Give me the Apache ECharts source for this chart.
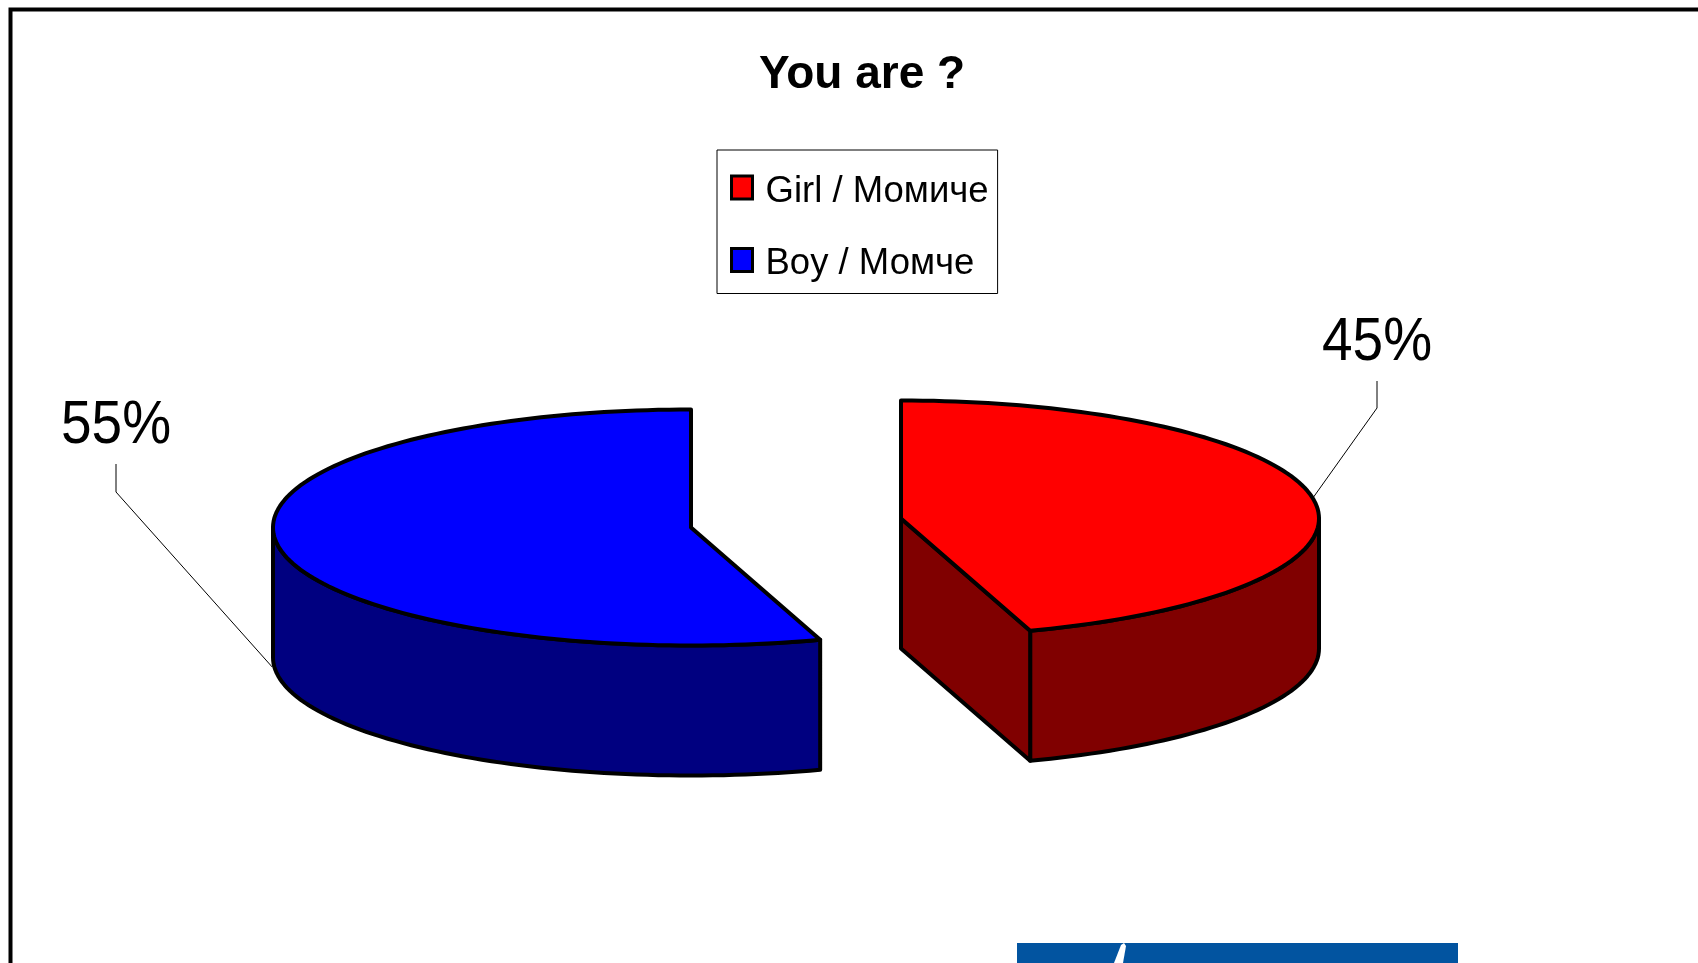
<!DOCTYPE html>
<html>
<head>
<meta charset="utf-8">
<style>html,body{margin:0;padding:0;background:#fff}#chart{width:1698px;height:963px}</style>
<script src="https://cdn.jsdelivr.net/npm/echarts@6/dist/echarts.min.js"></script>
</head>
<body>
<div id="chart"></div>
<script>
// Data
const titleText = 'You are ?';
const categories = ['Girl / Момиче', 'Boy / Момче'];
const values = [45, 55];
const percentLabels = ['45%', '55%'];
const topColors = ['#FF0000', '#0000FF'];
const sideColors = ['#800000', '#000080'];

// Layout
const RX = 418, RY = 118, DEPTH = 130;
const centers = [[901, 518.5], [691, 527.5]];
const labelPos = [[1377, 343], [116, 426]];
const elbows = [[[1377, 381], [1377, 408]], [[116, 464], [116, 492]]];
const leaderOffset = [[-1, -2], [-6, -9]];
const FONT = '"Liberation Sans", Arial, sans-serif';

const total = values.reduce((a, b) => a + b, 0);
const rad = d => d * Math.PI / 180;

function rim(c, deg, dy) {
  return [c[0] + RX * Math.sin(rad(deg)), c[1] - RY * Math.cos(rad(deg)) + (dy || 0)];
}
function arc(c, from, to, dy) {
  const pts = [], n = Math.max(2, Math.ceil(Math.abs(to - from) / 1.5));
  for (let i = 0; i <= n; i++) pts.push(rim(c, from + (to - from) * i / n, dy));
  return pts;
}
const stroke = { stroke: '#000', lineWidth: 4, lineJoin: 'round' };

function renderSlice(idx) {
  return function (params, api) {
    const before = values.slice(0, idx).reduce((a, b) => a + b, 0);
    const value = api.value(0);
    const start = before / total * 360, end = (before + value) / total * 360;
    const c = centers[idx], children = [];
    const poly = (points, fill) => children.push({
      type: 'polygon', shape: { points }, style: Object.assign({ fill }, stroke)
    });
    // visible part of the outer wall: the front half of the ellipse
    const a = Math.max(start, 90), b = Math.min(end, 270);
    if (b > a) poly(arc(c, a, b, 0).concat(arc(c, b, a, DEPTH)), sideColors[idx]);
    // visible cut wall
    if (Math.sin(rad(end)) > 1e-6) {
      const e = rim(c, end);
      poly([c, e, [e[0], e[1] + DEPTH], [c[0], c[1] + DEPTH]], sideColors[idx]);
    }
    // top face
    poly([c].concat(arc(c, start, end, 0)), topColors[idx]);
    // leader line and percentage
    const mid = rim(c, (start + end) / 2, idx === 1 ? DEPTH : 0);
    const endPt = [mid[0] + leaderOffset[idx][0], mid[1] + leaderOffset[idx][1]];
    children.push({
      type: 'polyline',
      shape: { points: elbows[idx].concat([endPt]) },
      style: { fill: null, stroke: '#000', lineWidth: 1 }
    });
    children.push({
      type: 'text', x: labelPos[idx][0], y: labelPos[idx][1], scaleY: 1.1,
      style: {
        text: percentLabels[idx], x: 0, y: 0, align: 'center', verticalAlign: 'middle',
        fontFamily: FONT, fontSize: 55, fill: '#000'
      }
    });
    return { type: 'group', children };
  };
}

const chart = echarts.init(document.getElementById('chart'));
chart.setOption({
  animation: false,
  backgroundColor: '#fff',
  title: {
    text: titleText, left: 857, top: 70, textAlign: 'center', textVerticalAlign: 'middle',
    textStyle: { fontFamily: FONT, fontSize: 46, fontWeight: 'bold', color: '#000' }
  },
  legend: {
    data: categories,
    orient: 'vertical',
    left: 717, top: 150,
    padding: [23, 9, 11, 13],
    itemGap: 35.5,
    itemWidth: 21, itemHeight: 23,
    icon: 'rect',
    borderColor: '#000', borderWidth: 1,
    backgroundColor: '#fff',
    selectedMode: false,
    itemStyle: { borderColor: '#000', borderWidth: 3 },
    formatter: name => '{t|' + name + '}',
    textStyle: {
      fontFamily: FONT, fontSize: 36.5, color: '#000', padding: [0, 0, 0, 8],
      rich: { t: { fontFamily: FONT, fontSize: 36.5, color: '#000', padding: [8, 0, 0, 0] } }
    }
  },
  series: categories.map((name, i) => ({
    type: 'custom',
    name,
    coordinateSystem: 'none',
    clip: false,
    silent: true,
    itemStyle: { color: topColors[i] },
    renderItem: renderSlice(i),
    encode: { value: 0 },
    data: [[values[i]]]
  })),
  graphic: [
    { type: 'polyline', z: 0, shape: { points: [[10.5, 970], [10.5, 9.5], [1710, 9.5]] },
      style: { fill: null, stroke: '#000', lineWidth: 4 } },
    { type: 'rect', z: 0, shape: { x: 1017, y: 943, width: 441, height: 30 }, style: { fill: '#0254A0' } },
    { type: 'polygon', z: 1, shape: { points: [[1121, 945], [1124, 943], [1126, 946], [1123, 963], [1114, 963]] },
      style: { fill: '#fff' } }
  ]
});
</script>
</body>
</html>
